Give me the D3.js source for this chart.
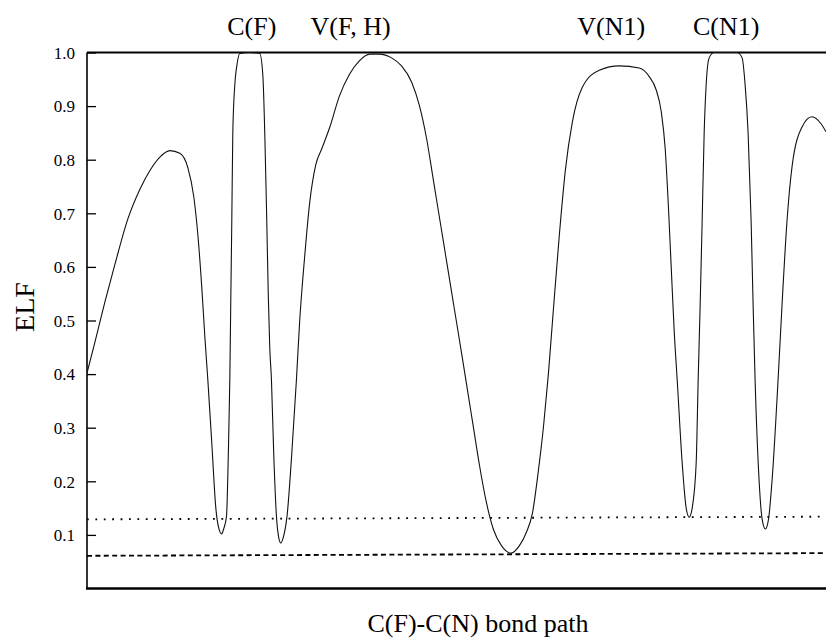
<!DOCTYPE html>
<html>
<head>
<meta charset="utf-8">
<script src="https://cdn.jsdelivr.net/npm/d3@7"></script>
<style>
  html, body { margin: 0; padding: 0; background: #fff; }
  svg { display: block; }
  svg text { font-family: "Liberation Serif", "Times New Roman", Times, "Nimbus Roman", "DejaVu Serif", "Noto Serif", serif; fill: #000; }
</style>
</head>
<body>
<div id="chart"></div>
<script>
// position along the C(F)-C(N) bond path (arbitrary units) and ELF value
const pathPos = [0, 8, 18, 28, 41, 53, 63, 73, 83, 93, 101, 107, 111, 115, 118, 121, 125, 129, 132, 134.7, 137, 139.7,
  141.5, 143, 144, 145, 146, 148, 150, 153, 163, 173, 176, 178, 179, 180, 181.5, 183, 184.7, 187, 189.7, 192,
  194, 196.5, 200.3, 205, 209.7, 213, 218, 223, 229, 235, 243, 253, 263, 273, 283, 293, 305, 315, 325, 333,
  340, 347, 354, 361, 368, 375, 381, 387, 393, 400, 407, 415, 424.7, 433, 440, 446, 452, 457, 462, 467,
  473, 479, 486, 496, 513, 533, 553, 563, 570, 575, 579, 582, 585, 588, 591, 596, 600, 603, 606, 610, 612, 614, 616, 618,
  620, 623, 628, 651, 656, 659, 662, 665, 667, 669, 673, 676, 679.3, 682.5, 686, 692, 696, 701, 706, 716,
  726, 735, 740];
const elfValues = [0.402, 0.46, 0.535, 0.605, 0.69, 0.745, 0.78, 0.805, 0.817, 0.812, 0.785, 0.73, 0.66, 0.56, 0.47, 0.389, 0.27, 0.15, 0.112, 0.102, 0.112, 0.135,
  0.25, 0.389, 0.54, 0.687, 0.85, 0.94, 0.975, 0.998, 1.0, 0.998, 0.96, 0.85, 0.77, 0.687, 0.55, 0.45, 0.389, 0.25, 0.135, 0.095,
  0.085, 0.095, 0.135, 0.25, 0.389, 0.5, 0.62, 0.72, 0.79, 0.82, 0.86, 0.92, 0.96, 0.985, 0.997, 0.997, 0.99, 0.975, 0.945, 0.9,
  0.84, 0.76, 0.68, 0.6, 0.52, 0.44, 0.37, 0.3, 0.23, 0.16, 0.11, 0.08, 0.066, 0.08, 0.105, 0.14, 0.22, 0.3, 0.4, 0.52,
  0.66, 0.78, 0.87, 0.935, 0.967, 0.975, 0.971, 0.955, 0.93, 0.89, 0.82, 0.72, 0.6, 0.48, 0.389, 0.234, 0.15, 0.133, 0.15, 0.234, 0.389, 0.53, 0.687, 0.85,
  0.94, 0.99, 1.0, 1.0, 0.99, 0.94, 0.85, 0.687, 0.53, 0.389, 0.202, 0.13, 0.111, 0.13, 0.202, 0.389, 0.53, 0.687, 0.787, 0.861,
  0.88, 0.867, 0.852];

// reference levels (slightly tilted in the original figure)
const dottedLevel = [0.129, 0.134];
const dashedLevel = [0.061, 0.066];

const basinLabels = ["C(F)", "V(F, H)", "V(N1)", "C(N1)"];
const basinPos = [165, 264, 525, 640];

const yTicks = [0.1, 0.2, 0.3, 0.4, 0.5, 0.6, 0.7, 0.8, 0.9, 1.0];

const W = 826, H = 638;
const margin = {top: 52.5, right: 0, bottom: 49.5, left: 87};
const width = W - margin.left - margin.right;
const height = H - margin.top - margin.bottom;
const serif = '"Liberation Serif", "Times New Roman", Times, "Nimbus Roman", "DejaVu Serif", "Noto Serif", serif';

const svg = d3.select("#chart").append("svg")
  .attr("width", W)
  .attr("height", H)
  .attr("font-family", serif);

const g = svg.append("g")
  .attr("transform", `translate(${margin.left}, ${margin.top})`);

const x = d3.scaleLinear().domain([0, 740]).range([0, width]);
const y = d3.scaleLinear().domain([0, 1]).range([height, 0]);

svg.append("clipPath").attr("id", "clip")
  .append("rect").attr("x", 0).attr("y", -2).attr("width", width).attr("height", height + 2);

// y axis with inward ticks
const yAxis = g.append("g")
  .call(d3.axisRight(y).tickValues(yTicks).tickSize(9).tickFormat(d3.format(".1f")))
  .attr("font-family", serif);
yAxis.select(".domain").remove();
yAxis.selectAll(".tick line").attr("stroke", "#000").attr("stroke-width", 1.3);
yAxis.selectAll(".tick text")
  .attr("x", -12)
  .attr("text-anchor", "end")
  .attr("dy", "0.34em")
  .style("font-size", "17px");

g.append("line").attr("x1", 0).attr("x2", 0).attr("y1", 0).attr("y2", height)
  .attr("stroke", "#000").attr("stroke-width", 1.6);
g.append("line").attr("x1", -1).attr("x2", width).attr("y1", height).attr("y2", height)
  .attr("stroke", "#000").attr("stroke-width", 2.4);
g.append("line").attr("x1", 0).attr("x2", width).attr("y1", 0).attr("y2", 0)
  .attr("stroke", "#000").attr("stroke-width", 2.2);

// reference lines
g.append("line")
  .attr("x1", x(0)).attr("x2", x(740))
  .attr("y1", y(dottedLevel[0])).attr("y2", y(dottedLevel[1]))
  .attr("stroke", "#000").attr("stroke-width", 1.8)
  .attr("stroke-dasharray", "1.8,6.6");
g.append("line")
  .attr("x1", x(0)).attr("x2", x(740))
  .attr("y1", y(dashedLevel[0])).attr("y2", y(dashedLevel[1]))
  .attr("stroke", "#000").attr("stroke-width", 1.8)
  .attr("stroke-dasharray", "5,3.4");

// ELF curve
const data = pathPos.map((p, i) => ({pos: p, elf: elfValues[i]}));
const line = d3.line()
  .x(d => x(d.pos))
  .y(d => y(d.elf))
  .curve(d3.curveMonotoneX);

g.append("path")
  .datum(data)
  .attr("clip-path", "url(#clip)")
  .attr("fill", "none")
  .attr("stroke", "#111")
  .attr("stroke-width", 1.1)
  .attr("d", line);

// basin labels
g.selectAll(".basin")
  .data(basinLabels)
  .join("text")
  .attr("class", "basin")
  .attr("x", (d, i) => x(basinPos[i]))
  .attr("y", -18)
  .attr("text-anchor", "middle")
  .style("font-size", "26px")
  .text(d => d);

// axis titles
svg.append("text")
  .attr("transform", "translate(34, 307) rotate(-90)")
  .attr("text-anchor", "middle")
  .style("font-size", "28px")
  .text("ELF");

svg.append("text")
  .attr("x", 478)
  .attr("y", 632)
  .attr("text-anchor", "middle")
  .style("font-size", "26px")
  .text("C(F)-C(N) bond path");
</script>
</body>
</html>
